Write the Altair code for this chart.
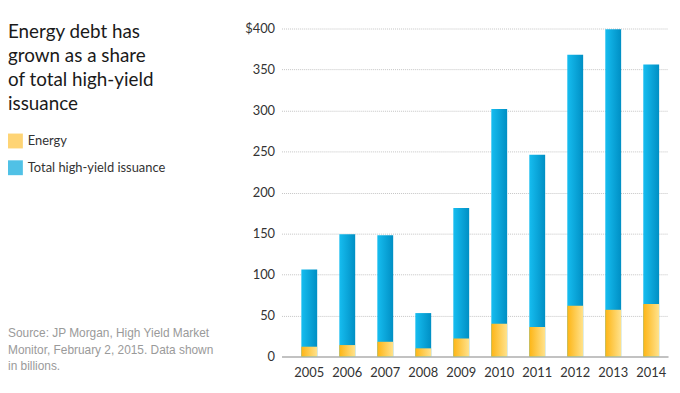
import altair as alt
import pandas as pd

years = ["2005", "2006", "2007", "2008", "2009", "2010", "2011", "2012", "2013", "2014"]
total = [106, 149, 148, 53, 181, 302, 246, 368, 399, 356]
energy = [12, 14, 18, 10, 22, 40, 36, 62, 57, 64]
series = ["Energy", "Total high-yield issuance"]
y_ticks = [0, 50, 100, 150, 200, 250, 300, 350, 400]
title_lines = ["Energy debt has", "grown as a share", "of total high-yield", "issuance"]
source_lines = ["Source: JP Morgan, High Yield Market",
                "Monitor, February 2, 2015. Data shown",
                "in billions."]

df = pd.DataFrame({"year": years, "total": total, "energy": energy})

BLUE_L, BLUE_R = "#16bdf0", "#008fc4"
YEL_L, YEL_R = "#fdb515", "#ffe28c"


def grad(c1, c2):
    return alt.Gradient(gradient="linear",
                        stops=[alt.GradientStop(color=c1, offset=0),
                               alt.GradientStop(color=c2, offset=1)],
                        x1=0, x2=1, y1=0, y2=0)


W, H = 390, 331
FONT = "Lato"

xscale = alt.Scale(paddingInner=0.583, paddingOuter=0.378, align=0.69)
xaxis = alt.Axis(title=None, labelAngle=0, ticks=False, grid=False, domainColor="#c2c2c2",
                 domainWidth=2, labelFont=FONT, labelFontSize=13, labelColor="#333333",
                 labelPadding=10)
yscale = alt.Scale(domain=[0, 400], nice=False)
yaxis = alt.Axis(title=None, values=y_ticks, domain=False, ticks=False, grid=True,
                 gridDash=[1, 1], gridColor="#c4c4c4", gridWidth=1,
                 labelFont=FONT, labelFontSize=13, labelColor="#333333", labelPadding=7,
                 labelExpr="datum.value == 400 ? '$400' : datum.label")

base = alt.Chart(df)
total_bar = base.mark_bar(fill=grad(BLUE_L, BLUE_R)).encode(
    x=alt.X("year:N", scale=xscale, axis=xaxis),
    y=alt.Y("total:Q", scale=yscale, axis=yaxis),
)
energy_bar = base.mark_bar(fill=grad(YEL_L, YEL_R)).encode(
    x=alt.X("year:N", scale=xscale, axis=xaxis),
    y=alt.Y("energy:Q", scale=yscale, axis=yaxis),
)

legend_df = pd.DataFrame({"series": series})
legend_layer = alt.Chart(legend_df).transform_filter("false").mark_square().encode(
    color=alt.Color("series:N",
                    scale=alt.Scale(domain=series, range=["#fdc23a", "#05a6dc"]),
                    legend=alt.Legend(title=None, orient="none", legendX=-276, legendY=106,
                                      symbolType="square", symbolSize=225,
                                      symbolStrokeWidth=0, labelFont=FONT,
                                      labelFontSize=13, labelColor="#333333",
                                      labelOffset=5, rowPadding=12))
)

txt_df = pd.DataFrame({"k": [0]})
title_layer = alt.Chart(txt_df).mark_text(
    align="left", baseline="alphabetic", font=FONT, fontSize=19, lineHeight=24,
    color="#1a1a1a"
).encode(x=alt.value(-276), y=alt.value(10), text=alt.value(title_lines))

source_layer = alt.Chart(txt_df).mark_text(
    align="left", baseline="alphabetic", font="Liberation Sans", fontSize=12,
    lineHeight=17, color="#9a9a9a"
).encode(x=alt.value(-276), y=alt.value(311), text=alt.value(source_lines))

chart = alt.layer(total_bar, energy_bar, legend_layer, title_layer, source_layer).properties(
    width=W, height=H, autosize="none",
    padding={"left": 276, "top": 19, "right": 4, "bottom": 25},
).configure_view(stroke=None)

chart.save("out.html", embed_options={"renderer": "svg", "actions": False})
